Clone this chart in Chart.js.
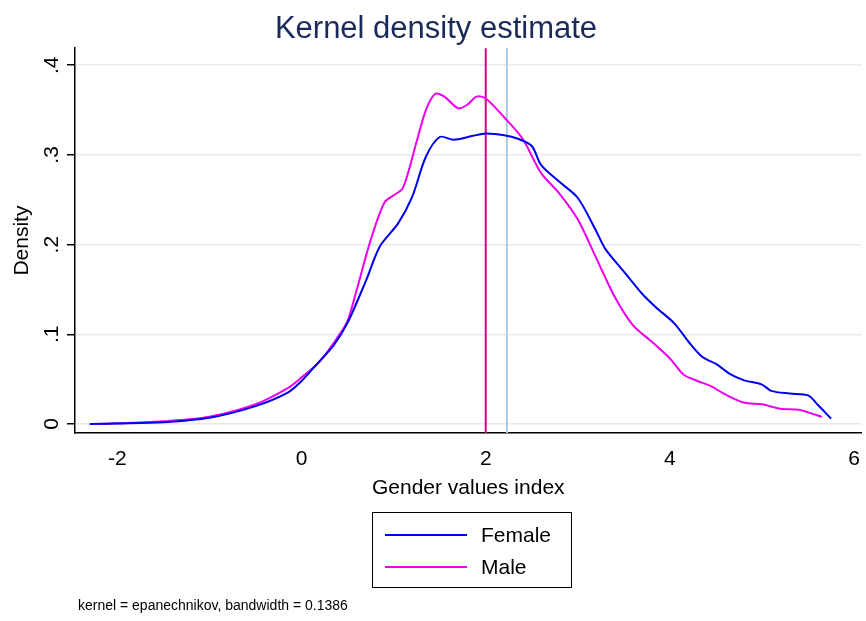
<!DOCTYPE html>
<html><head><meta charset="utf-8">
<script src="https://cdn.jsdelivr.net/npm/chart.js@4/dist/chart.umd.min.js"></script>
<style>
body{margin:0;background:#fff;font-family:"Liberation Sans",Arial,sans-serif;}
#wrap{position:relative;width:866px;height:621px;}
#legend{position:absolute;left:372px;top:512px;width:200px;height:76px;border:1px solid #000;box-sizing:border-box;font-size:21px;}
.row{position:absolute;left:12px;height:24px;display:flex;align-items:center;}
.sw{width:82px;height:2px;margin-right:14px;}
#note{position:absolute;left:78px;top:597px;font-size:14px;}
</style></head><body>
<div id="wrap">
<canvas id="c" width="866" height="621"></canvas>
<div id="legend">
 <div class="row" style="top:10px"><div class="sw" style="background:#0000ee"></div>Female</div>
 <div class="row" style="top:42px"><div class="sw" style="background:#ee00ee"></div>Male</div>
</div>
<div id="note">kernel = epanechnikov, bandwidth = 0.1386</div>
</div>
<script>
let femaleX = [-2.3,-2,-1.5,-1,-0.5,-0.15,0,0.15,0.35,0.5,0.7,0.85,1.05,1.2,1.35,1.5,1.65,1.85,2.0,2.2,2.35,2.5,2.6,2.8,3.0,3.2,3.3,3.5,3.7,3.85,4.05,4.2,4.35,4.5,4.65,4.8,5.0,5.1,5.3,5.5,5.6,5.75];
let femaleY = [0,0.0005,0.002,0.007,0.02,0.035,0.048,0.065,0.088,0.113,0.16,0.198,0.224,0.253,0.298,0.320,0.317,0.321,0.324,0.322,0.318,0.31,0.289,0.27,0.252,0.215,0.195,0.17,0.145,0.13,0.112,0.092,0.075,0.067,0.056,0.049,0.044,0.037,0.034,0.032,0.022,0.006];
let maleX = [-2.2,-1.5,-1,-0.5,-0.15,0,0.2,0.4,0.5,0.6,0.75,0.9,1.0,1.1,1.25,1.35,1.45,1.55,1.7,1.8,1.9,2.0,2.2,2.4,2.6,2.8,3.0,3.2,3.4,3.6,3.8,4.0,4.15,4.3,4.45,4.6,4.8,5.0,5.2,5.4,5.5,5.65];
let maleY = [0,0.003,0.008,0.022,0.04,0.052,0.07,0.098,0.115,0.15,0.205,0.247,0.255,0.263,0.315,0.35,0.368,0.365,0.352,0.356,0.365,0.363,0.342,0.318,0.28,0.257,0.228,0.185,0.142,0.11,0.092,0.073,0.055,0.048,0.042,0.033,0.024,0.022,0.017,0.016,0.013,0.008];
let refLines = [2, 2.23];
let xTicks = [-2, 0, 2, 4, 6];
let yTicks = [0, 0.1, 0.2, 0.3, 0.4];
let yTickLabels = ["0", ".1", ".2", ".3", ".4"];

const pts = (xs, ys) => xs.map((x, i) => ({x: x, y: ys[i]}));
const vline = x => [{x: x, y: -0.02}, {x: x, y: 0.45}];

const yLabels = {
  id: 'yLabels',
  afterDraw(chart) {
    const ctx = chart.ctx, s = chart.scales.y;
    ctx.save();
    ctx.font = '21px "Liberation Sans", Arial';
    ctx.fillStyle = '#000';
    ctx.textAlign = 'center';
    ctx.textBaseline = 'bottom';
    yTicks.forEach((v, i) => {
      ctx.save();
      ctx.translate(s.right - 12, s.getPixelForValue(v));
      ctx.rotate(-Math.PI / 2);
      ctx.fillText(yTickLabels[i], 0, 0);
      ctx.restore();
    });
    ctx.restore();
  }
};

new Chart("c", {
  type: "scatter",
  data: {
    datasets: [
      {data: pts(femaleX, femaleY), showLine: true, borderColor: "#0000ee", borderWidth: 2, pointRadius: 0, tension: 0.3},
      {data: pts(maleX, maleY), showLine: true, borderColor: "#ee00ee", borderWidth: 2, pointRadius: 0, tension: 0.3},
      {data: vline(refLines[0]), showLine: true, borderColor: "#e0007a", borderWidth: 2, pointRadius: 0},
      {data: vline(refLines[1]), showLine: true, borderColor: "#a8cfe0", borderWidth: 2, pointRadius: 0}
    ]
  },
  plugins: [yLabels],
  options: {
    responsive: false,
    animation: false,
    layout: {padding: {left: 10, right: 4, top: 0, bottom: 116}},
    plugins: {
      legend: {display: false},
      tooltip: {enabled: false},
      title: {display: true, text: "Kernel density estimate", color: "#1a2a5a",
        font: {size: 31, family: '"Liberation Sans", Arial', weight: 'normal'}, padding: {top: 11, bottom: 0}}
    },
    scales: {
      x: {
        min: -2.46, max: 6.08,
        afterBuildTicks: s => { s.ticks = xTicks.map(v => ({value: v})); },
        afterFit: s => { s.height = 72; },
        grid: {display: false, drawTicks: true, tickLength: 8, tickColor: "#000"},
        border: {color: "#000", width: 1.5},
        ticks: {color: "#000", font: {size: 21, family: '"Liberation Sans", Arial'}, padding: 6, maxRotation: 0},
        title: {display: true, text: "Gender values index", color: "#000", font: {size: 21, family: '"Liberation Sans", Arial'}, padding: {top: 0}}
      },
      y: {
        min: -0.01, max: 0.419,
        afterBuildTicks: s => { s.ticks = yTicks.map(v => ({value: v})); },
        afterFit: s => { s.width = 65; },
        grid: {color: "#e3ebef", lineWidth: 1.5, tickLength: 8, tickColor: "#000"},
        border: {color: "#000", width: 1.5},
        ticks: {display: false},
        title: {display: true, text: "Density", color: "#000", font: {size: 21, family: '"Liberation Sans", Arial'}, padding: 0}
      }
    }
  }
});
</script>
</body></html>
